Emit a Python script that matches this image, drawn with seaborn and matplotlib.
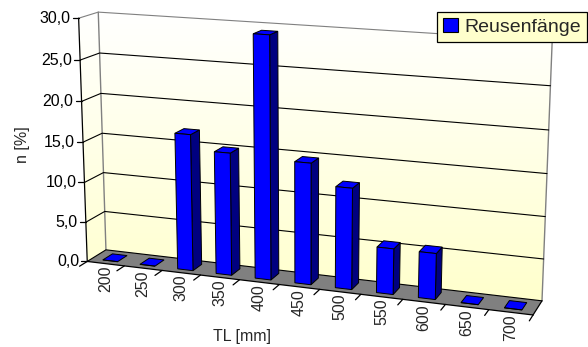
import numpy as np
import matplotlib
matplotlib.use("Agg")
import matplotlib.pyplot as plt
import matplotlib.transforms as mtransforms
from matplotlib.patches import Polygon, Patch
from matplotlib.lines import Line2D
import seaborn as sns

# ---------------- data ----------------
categories = ["200", "250", "300", "350", "400", "450", "500", "550", "600", "650", "700"]
values = [0.0, 0.0, 16.8, 15.0, 29.3, 14.7, 12.2, 5.5, 5.5, 0.0, 0.0]
series_name = "Reusenfänge"
y_ticks = [0, 5, 10, 15, 20, 25, 30]
y_tick_labels = ["0,0", "5,0", "10,0", "15,0", "20,0", "25,0", "30,0"]
x_title = "TL [mm]"
y_title = "n [%]"

# ---------------- style ----------------
sns.set_style("white")
plt.rcParams["font.family"] = ["Liberation Sans", "DejaVu Sans"]

W, H = 588, 347
fig = plt.figure(figsize=(W / 100, H / 100), dpi=100)
ax = fig.add_axes([0, 0, 1, 1])

# ---------------- 3D camera (fitted to the box corners of the layout) ----------------
n_cat = len(categories)
v_max = y_ticks[-1]
anchor_world = np.array([(0, 0, 0), (0, 0, 30), (0, 1, 0), (0, 1, 30), (11, 1, 0), (11, 0, 0),
                         (11, 1, 25), (11, 1, 10), (2, 0, 0), (5, 0, 0), (8, 0, 0)], float)
anchor_px = np.array([(88, 261), (78, 18), (105, 251), (99, 12), (542, 299), (533, 316),
                      (550, 86), (546, 217), (163, 270), (278, 284), (403, 300)], float)
CX, CY, S = 294.0, 173.0, 294.0


def fit_camera(world, img):
    Wn = np.column_stack([world[:, 0] / 11.0, world[:, 1], world[:, 2] / 30.0, np.ones(len(world))])
    xn = (img[:, 0] - CX) / S
    yn = (img[:, 1] - CY) / S
    rows = []
    for Xw, x, y in zip(Wn, xn, yn):
        rows.append(np.concatenate([Xw, np.zeros(4), -x * Xw]))
        rows.append(np.concatenate([np.zeros(4), Xw, -y * Xw]))
    _, _, Vt = np.linalg.svd(np.array(rows))
    return Vt[-1].reshape(3, 4)


P = fit_camera(anchor_world, anchor_px)


def project(u, w, v):
    u = np.atleast_1d(np.asarray(u, float))
    w = np.broadcast_to(np.asarray(w, float), u.shape)
    v = np.broadcast_to(np.asarray(v, float), u.shape)
    X = np.stack([u / 11.0, w, v / 30.0, np.ones_like(u)], axis=0)
    p = P @ X
    return np.column_stack([p[0] / p[2] * S + CX, p[1] / p[2] * S + CY])


class PlaneProj(mtransforms.Transform):
    """Maps seaborn's (category position, value) onto a depth slice of the 3D box."""
    input_dims = 2
    output_dims = 2
    is_separable = False
    has_inverse = False

    def __init__(self, slice_w):
        super().__init__()
        self.slice_w = slice_w

    def transform_non_affine(self, values):
        values = np.asarray(values, float).reshape(-1, 2)
        return project(values[:, 0] + 0.5, self.slice_w, values[:, 1])


W_FRONT, W_BACK = 0.24, 0.76

# ---------------- bars via seaborn ----------------
sns.barplot(x=categories, y=values, order=categories, color="#0000FF", saturation=1,
            width=0.4, edgecolor="black", linewidth=0.7, ax=ax)
bars = list(ax.patches)

ax.set_xlim(0, W)
ax.set_ylim(H, 0)
ax.set_autoscale_on(False)
ax.set_axis_off()

# ---------------- walls ----------------
wall_poly = np.vstack([project(0, 0, 0), project(0, 1, 0), project(11, 1, 0),
                       project(11, 1, v_max), project(0, 1, v_max), project(0, 0, v_max)])
grad = np.linspace(0, 1, 256)[:, None, None]
top_c = np.array([1.0, 1.0, 1.0])
bot_c = np.array([1.0, 1.0, 0.80])
img = (1 - grad) * top_c + grad * bot_c
xmin, ymin = wall_poly.min(axis=0)
xmax, ymax = wall_poly.max(axis=0)
im = ax.imshow(img, extent=(xmin, xmax, ymax, ymin), origin="upper", aspect="auto", zorder=0)
clip = Polygon(wall_poly, closed=True, transform=ax.transData, facecolor="none", edgecolor="none")
ax.add_patch(clip)
im.set_clip_path(clip)
ax.set_xlim(0, W)
ax.set_ylim(H, 0)

# wall edges (grey)
for pts in [np.vstack([project(0, 1, 0), project(0, 1, v_max)]),
            np.vstack([project(11, 1, 0), project(11, 1, v_max)])]:
    ax.add_line(Line2D(pts[:, 0], pts[:, 1], color="#808080", lw=1.0, zorder=0.6))

# floor
floor = np.vstack([project(0, 0, 0), project(11, 0, 0), project(11, 1, 0), project(0, 1, 0)])
ax.add_patch(Polygon(floor, closed=True, facecolor="#808080", edgecolor="none", zorder=0.5))

# gridlines
for v in y_ticks:
    pts = np.vstack([project(0, 0, v), project(0, 1, v), project(11, 1, v)])
    col = "#808080" if v == v_max else "black"
    ax.add_line(Line2D(pts[:, 0], pts[:, 1], color=col, lw=0.8, zorder=0.8))

# value axis + ticks + labels
pts = np.vstack([project(0, 0, 0), project(0, 0, v_max)])
ax.add_line(Line2D(pts[:, 0], pts[:, 1], color="black", lw=0.9, zorder=1))
for v, lab in zip(y_ticks, y_tick_labels):
    a = project(0, 0, v)[0]
    ax.add_line(Line2D([a[0] - 6, a[0]], [a[1], a[1]], color="black", lw=0.9, zorder=1))
    ax.text(a[0] - 8, a[1], lab, ha="right", va="center", fontsize=11.5, color="black")

# category axis + ticks + labels
pts = np.vstack([project(0, 0, 0), project(11, 0, 0)])
ax.add_line(Line2D(pts[:, 0], pts[:, 1], color="black", lw=0.9, zorder=1))
pts = np.vstack([project(11, 0, 0), project(11, 1, 0)])
ax.add_line(Line2D(pts[:, 0], pts[:, 1], color="black", lw=0.9, zorder=1))
for k in range(n_cat + 1):
    pts = np.vstack([project(k, 0, 0), project(k, -0.4, 0)])
    ax.add_line(Line2D(pts[:, 0], pts[:, 1], color="black", lw=0.9, zorder=1))
for i, lab in enumerate(categories):
    a = project(i + 0.5, 0, 0)[0]
    ax.text(a[0], a[1] + 2, lab, rotation=90, ha="center", va="top", fontsize=11.5)

# ---------------- 3D bar faces ----------------
for p in bars:
    x0 = p.get_x() + 0.5
    x1 = x0 + p.get_width()
    h = p.get_height()
    p.set_transform(PlaneProj(W_FRONT) + ax.transData)
    p.set_zorder(3)
    side = np.vstack([project(x1, W_FRONT, 0), project(x1, W_BACK, 0),
                      project(x1, W_BACK, h), project(x1, W_FRONT, h)])
    top = np.vstack([project(x0, W_FRONT, h), project(x1, W_FRONT, h),
                     project(x1, W_BACK, h), project(x0, W_BACK, h)])
    if h > 0:
        ax.add_patch(Polygon(side, closed=True, facecolor="#000080", edgecolor="black",
                             lw=0.7, zorder=2.5))
    ax.add_patch(Polygon(top, closed=True, facecolor="#0000FF", edgecolor="black",
                         lw=0.7, zorder=2.6))

# ---------------- titles ----------------
ax.text(22, 145, y_title, rotation=90, ha="center", va="center", fontsize=11.5)
ax.text(242, 336, x_title, ha="center", va="center", fontsize=11.5)

# ---------------- legend ----------------
handle = Patch(facecolor="#0000FF", edgecolor="black", linewidth=0.8, label=series_name)
leg = ax.legend(handles=[handle], loc="upper right", bbox_to_anchor=(587, 12),
                bbox_transform=ax.transData, fontsize=14, frameon=True, fancybox=False,
                framealpha=1, facecolor="#FFFFCC", edgecolor="black", borderpad=0.3,
                handlelength=0.75, handleheight=0.75, handletextpad=0.35, borderaxespad=0)
leg.get_frame().set_linewidth(0.9)
leg.set_zorder(10)

fig.savefig("out.png", dpi=100)
